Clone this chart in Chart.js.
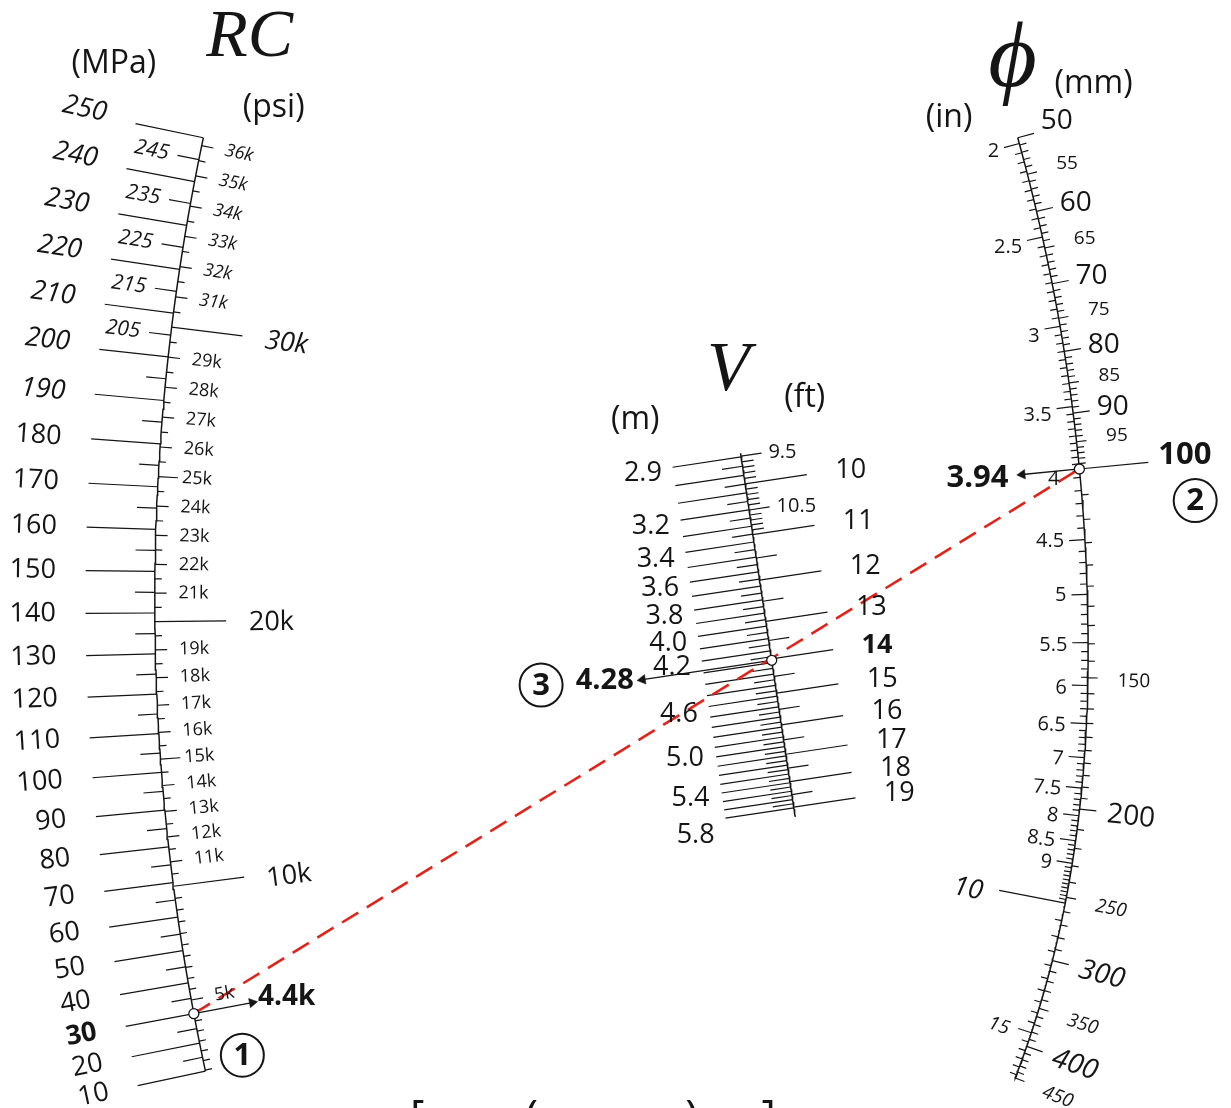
<!DOCTYPE html>
<html>
<head>
<meta charset="utf-8">
<script src="https://cdn.jsdelivr.net/npm/chart.js@4.4.1/dist/chart.umd.min.js"></script>
<style>
  html, body { margin: 0; padding: 0; background: #fff; overflow: hidden; }
  canvas { display: block; }
</style>
</head>
<body>
<canvas id="nomo" width="1231" height="1108"></canvas>
<script>
function range(from, to, step) {
    let out = [];
    let n = Math.round((to - from) / step);
    for (let i = 0; i <= n; i++) out.push(+(from + i * step).toFixed(4));
    return out;
}
function without(list, skip) {
    return list.filter(v => !skip.some(s => Math.abs(s - v) < 1e-6));
}

// ---- RC scale: MPa on the left, psi on the right ----
const rcMpaMajor = [250, 240, 230, 220, 210, 200, 190, 180, 170, 160, 150, 140, 130, 120, 110, 100, 90, 80, 70, 60, 50, 40, 30, 20, 10];
const rcMpaMid = [245, 235, 225, 215, 205];
const rcMpaMinor = [195, 185, 175, 165, 155, 145, 135, 125, 115, 105, 95, 85, 75, 65, 55, 45, 35, 25, 15];
const rcPsiMajor = [30000, 20000, 10000];
const rcPsiLabelled = [36000, 35000, 34000, 33000, 32000, 31000, 29000, 28000, 27000, 26000, 25000, 24000, 23000, 22000, 21000,
    19000, 18000, 17000, 16000, 15000, 14000, 13000, 12000, 11000, 5000];
const rcPsiMinor = without(range(1500, 36000, 500), rcPsiMajor.concat(rcPsiLabelled));

// ---- V scale: metres on the left, feet on the right ----
const vMetreLabels = [2.9, 3.2, 3.4, 3.6, 3.8, 4.0, 4.2, 4.6, 5.0, 5.4, 5.8];
const vMetreTenths = range(2.9, 5.8, 0.1);
const vMetreHalves = range(2.95, 5.75, 0.1);
const vFeetWhole = [10, 11, 12, 13, 14, 15, 16, 17, 18, 19];
const vFeetHalf = [9.5, 10.5, 11.5, 12.5, 13.5, 14.5, 15.5, 16.5, 17.5, 18.5];
const vFeetHalfLabels = [9.5, 10.5];
const vFeetFine = without(range(9.6, 10.9, 0.1), [10, 10.5]);

// ---- phi scale: mm on the right, inches on the left ----
const phiMmLarge = [50, 60, 70, 80, 90, 200, 300, 400];
const phiMmSmall = [55, 65, 75, 85, 95, 150, 250, 350, 450];
const phiMmBold = [100];
const phiMmMinor = without(range(51, 99, 1).concat(range(105, 195, 5), range(210, 440, 10)),
    phiMmLarge.concat(phiMmSmall));
const phiInLabels = [2, 2.5, 3, 3.5, 4, 4.5, 5, 5.5, 6, 6.5, 7, 7.5, 8, 8.5, 9];
const phiInLarge = [10];
const phiInSmall = [15];
const phiInMinor = without(range(2.05, 3.95, 0.05).concat(range(4.1, 9.9, 0.1), range(10.5, 17.5, 0.5)),
    phiInLabels.concat(phiInLarge, phiInSmall));

// ---- the worked example ----
const rcReading = 30;          // MPa
const rcReadingText = '4.4k';  // psi
const phiReading = 100;        // mm
const phiReadingText = '3.94'; // in
const vReadingFt = 14;
const vReadingM = 4.28;

const PSI_PER_MPA = 145.038;
const FT = 0.3048;
const INCH = 25.4;

// divided-difference polynomial through calibration points
function newton(xs, ys) {
    let n = xs.length, c = ys.slice();
    for (let j = 1; j < n; j++)
        for (let i = n - 1; i >= j; i--) c[i] = (c[i] - c[i - 1]) / (xs[i] - xs[i - j]);
    return t => {
        let r = c[n - 1];
        for (let i = n - 2; i >= 0; i--) r = r * (t - xs[i]) + c[i];
        return r;
    };
}

// axis geometry (layout): value -> y, y -> x, slope dx/dy
const rcAxis = {
    pos: newton([10, 90, 170, 250], [1077, 813, 486, 133]),
    x: y => 150 + 0.000225 * (y - 600) ** 2,
    slope: y => 0.00045 * (y - 600),
    rotate: 'all'
};
const phiLn = newton([0, Math.log(1.6), Math.log(2), Math.log(4), Math.log(8)], [133, 349, 468, 812, 1052]);
const phiAxis = {
    pos: mm => phiLn(Math.log(mm / 50)),
    x: y => {
        let d = y - 650;
        return d <= 0 ? 1093 - 0.000266 * d * d : 1093 - 0.0002885 * d * d - 2.364e-7 * d * d * d;
    },
    slope: y => {
        let d = y - 650;
        return d <= 0 ? -0.000532 * d : -(0.000577 * d + 7.092e-7 * d * d);
    },
    rotate: 'lower'
};
const vLn = newton([0, Math.log(14 / 9.5), Math.log(2)], [455, 660, 810]);
const vAxis = {
    pos: ft => vLn(Math.log(ft / 9.5)),
    x: y => 742 + (y - 453) * 0.1503,
    slope: () => 0.1503,
    rotate: 'none'
};

function at(axis, v) {
    let y = axis.pos(v), x = axis.x(y), s = axis.slope(y), k = Math.hypot(1, s);
    return {x: x, y: y, nx: 1 / k, ny: -s / k};
}
function off(p, d) {
    return {x: p.x + p.nx * d, y: p.y + p.ny * d};
}

const mpa = v => v;
const psi = v => v / PSI_PER_MPA;
const metre = v => v / FT;
const feet = v => v;
const mm = v => v;
const inch = v => v * INCH;

function tickSegs(axis, values, conv, side, len) {
    let pts = [];
    values.forEach(v => {
        let p = at(axis, conv(v));
        pts.push({x: p.x, y: p.y}, off(p, side * len), {x: null, y: null});
    });
    return pts;
}
function axisPath(axis, values) {
    return values.map(v => {
        let p = at(axis, v);
        return {x: p.x, y: p.y};
    });
}

const ink = '#151515';
const datasets = [];
function addLine(data, width) {
    datasets.push({
        data: data, showLine: true, borderColor: ink, borderWidth: width,
        pointRadius: 0, pointHoverRadius: 0, spanGaps: false, order: 5
    });
}

// axes
addLine(axisPath(rcAxis, range(10, 250, 2)), 1.5);
addLine(axisPath(vAxis, range(9.45, 19.4, 0.05)), 1.5);
addLine(axisPath(phiAxis, range(50, 450, 2)), 1.5);

// RC ticks
addLine(tickSegs(rcAxis, rcMpaMajor, mpa, -1, 70), 1.2);
addLine(tickSegs(rcAxis, rcMpaMid, mpa, -1, 22), 1.2);
addLine(tickSegs(rcAxis, rcMpaMinor, mpa, -1, 20), 1.2);
addLine(tickSegs(rcAxis, rcPsiMajor, psi, 1, 72), 1.2);
addLine(tickSegs(rcAxis, without(rcPsiLabelled, [15000, 25000]), psi, 1, 12), 1.2);
addLine(tickSegs(rcAxis, [15000, 25000], psi, 1, 20), 1.2);
addLine(tickSegs(rcAxis, rcPsiMinor, psi, 1, 7), 1.2);

// V ticks
addLine(tickSegs(vAxis, vMetreTenths, metre, -1, 70), 1.2);
addLine(tickSegs(vAxis, vMetreHalves, metre, -1, 21), 1.2);
addLine(tickSegs(vAxis, vFeetWhole, feet, 1, 63), 1.2);
addLine(tickSegs(vAxis, vFeetHalf, feet, 1, 21), 1.2);
addLine(tickSegs(vAxis, vFeetFine, feet, 1, 12), 1.2);

// phi ticks
addLine(tickSegs(phiAxis, phiMmLarge, mm, 1, 17), 1.2);
addLine(tickSegs(phiAxis, phiMmSmall, mm, 1, 10), 1.2);
addLine(tickSegs(phiAxis, phiMmBold, mm, 1, 70), 1.2);
addLine(tickSegs(phiAxis, phiMmMinor, mm, 1, 7), 1.2);
addLine(tickSegs(phiAxis, without(phiInLabels, [4]), inch, -1, 16), 1.2);
addLine(tickSegs(phiAxis, [4], inch, -1, 7), 1.2);
addLine(tickSegs(phiAxis, phiInLarge, inch, -1, 68), 1.2);
addLine(tickSegs(phiAxis, phiInSmall, inch, -1, 14), 1.2);
addLine(tickSegs(phiAxis, phiInMinor, inch, -1, 7), 1.2);

// worked example: index line and read-out arrows
const p1 = at(rcAxis, rcReading);
const p2 = at(phiAxis, phiReading);
const p3 = at(vAxis, metre(vReadingM));

datasets.push({
    data: [{x: p1.x, y: p1.y}, {x: p2.x, y: p2.y}], showLine: true,
    borderColor: '#e2231a', borderWidth: 2.6, borderDash: [19, 10],
    pointRadius: 0, pointHoverRadius: 0, order: 2
});

const arrows = [[p1, 64], [p2, -62], [p3, -136]];
let shafts = [], heads = [], headRot = [];
arrows.forEach(([p, len]) => {
    let tip = off(p, len), back = off(p, len - Math.sign(len) * 4);
    shafts.push({x: p.x, y: p.y}, back, {x: null, y: null});
    heads.push(back);
    headRot.push(Math.atan2(tip.y - p.y, tip.x - p.x) * 180 / Math.PI + 90);
});
datasets.push({
    data: shafts, showLine: true, borderColor: ink, borderWidth: 1.3,
    pointRadius: 0, pointHoverRadius: 0, order: 3
});
datasets.push({
    data: heads, showLine: false, pointStyle: 'triangle', pointRadius: 5.5, pointRotation: headRot,
    pointBackgroundColor: ink, pointBorderColor: ink, pointBorderWidth: 0.5, order: 1
});
datasets.push({
    data: [p1, p2, p3].map(p => ({x: p.x, y: p.y})), showLine: false,
    pointStyle: 'circle', pointRadius: 5, pointBackgroundColor: '#fff',
    pointBorderColor: ink, pointBorderWidth: 1.3, order: 0
});

// ---- text ----
const face = '"Open Sans", "DejaVu Sans", sans-serif';
const serif = '"Liberation Serif", "DejaVu Serif", serif';
const font = (size, style) => `${style || ''} ${size}px ${face}`;
const texts = [];

function label(axis, v, side, dist, text, f, dy) {
    let p = at(axis, v), q = off(p, side * dist);
    let angle = 0;
    if (axis.rotate === 'all' || (axis.rotate === 'lower' && p.y > 650)) angle = Math.atan2(p.ny, p.nx);
    texts.push({x: q.x, y: q.y + (dy || 0), text: text, font: f, align: side > 0 ? 'left' : 'right', angle: angle});
}
function freeText(x, y, text, f, align, base) {
    texts.push({x: x, y: y, text: text, font: f, align: align || 'left', base: base || 'alphabetic', angle: 0});
}

rcMpaMajor.forEach(v => label(rcAxis, v, -1, 100, String(v),
    font(27, v === rcReading ? 'bold' : (v >= 190 ? 'italic' : '')), v >= 200 ? -4 : 0));
rcMpaMid.forEach(v => label(rcAxis, v, -1, 31, String(v), font(21, 'italic')));
rcPsiMajor.forEach(v => label(rcAxis, psi(v), 1, 95, (v / 1000) + 'k', font(27, v >= 30000 ? 'italic' : ''), v === 10000 ? 5 : 2));
rcPsiLabelled.forEach(v => label(rcAxis, psi(v), 1, 24, (v / 1000) + 'k', font(18, v > 30000 ? 'italic' : '')));

// metre labels drift below their ticks towards the foot of the scale
vMetreLabels.forEach(v => label(vAxis, metre(v), -1, 81, v.toFixed(1), font(27), 5 + Math.max(0, v - 4.4) * 8));
vFeetWhole.forEach(v => label(vAxis, v, 1, 92, String(v), font(27, v === vReadingFt ? 'bold' : '')));
vFeetHalfLabels.forEach(v => label(vAxis, v, 1, 28, String(v), font(20)));

phiMmLarge.forEach(v => label(phiAxis, v, 1, v >= 200 ? 28 : 24, String(v), font(28, v >= 250 ? 'italic' : ''),
    v === 50 ? -11 : (v < 100 ? -3 : 2)));
phiMmSmall.forEach(v => label(phiAxis, v, 1, 30, String(v), font(19, v >= 250 ? 'italic' : ''), v < 100 ? -3 : 3));
phiMmBold.forEach(v => label(phiAxis, v, 1, 80, String(v), font(31, 'bold'), -6));
phiInLabels.forEach(v => label(phiAxis, inch(v), -1, 21, String(v), font(20),
    v === 2 ? 2 : (v < 4 ? 6 : (v < 5.5 ? 0 : 3))));
phiInLarge.forEach(v => label(phiAxis, inch(v), -1, 85, String(v), font(27, 'italic'), 5));
phiInSmall.forEach(v => label(phiAxis, inch(v), -1, 24, String(v), font(19, 'italic'), 4));

// read-outs at the arrow heads
let r1 = off(p1, 66), r2 = off(p2, -72), r3 = off(p3, -141);
freeText(r1.x, r1.y - 5, rcReadingText, font(28, 'bold'), 'left', 'middle');
freeText(r2.x, r2.y + 2, phiReadingText, font(31, 'bold'), 'right', 'middle');
freeText(r3.x, r3.y, vReadingM.toFixed(2), font(29, 'bold'), 'right', 'middle');

// scale titles and units
freeText(202, 50, 'RC', `italic 68px ${serif}`);
freeText(66, 67, '(MPa)', font(32));
freeText(239, 112, '(psi)', font(32));
freeText(708, 388, 'V', `italic 70px ${serif}`);
freeText(611, 428, '(m)', font(32));
freeText(786, 405, '(ft)', font(32));
freeText(992, 81, '\u03D5', `italic 94px ${serif}`);
freeText(1059, 88, '(mm)', font(32));
freeText(929, 122, '(in)', font(32));

// formula below the chart, only its top edge shows
freeText(408, 1138, '[', font(44));
freeText(524, 1138, '(', font(44));
freeText(686, 1138, ')', font(44));
freeText(763, 1138, ']', font(44));

const badges = [[p1, 49, 42, '1'], [p2, 117, 32, '2'], [p3, -233, 25, '3']];

const nomoText = {
    id: 'nomoText',
    afterDatasetsDraw(chart) {
        const ctx = chart.ctx, sx = chart.scales.x, sy = chart.scales.y;
        ctx.save();
        ctx.fillStyle = ink;
        texts.forEach(t => {
            ctx.save();
            ctx.translate(sx.getPixelForValue(t.x), sy.getPixelForValue(t.y));
            ctx.rotate(t.angle);
            ctx.font = t.font;
            ctx.textAlign = t.align;
            ctx.textBaseline = t.base || 'middle';
            ctx.fillText(t.text, 0, 0);
            ctx.restore();
        });
        badges.forEach(([p, dx, dy, n]) => {
            let cx = sx.getPixelForValue(p.x + dx), cy = sy.getPixelForValue(p.y + dy);
            ctx.beginPath();
            ctx.arc(cx, cy, 21.5, 0, Math.PI * 2);
            ctx.lineWidth = 2;
            ctx.strokeStyle = ink;
            ctx.stroke();
            ctx.font = font(31, 'bold');
            ctx.textAlign = 'center';
            ctx.textBaseline = 'middle';
            ctx.fillText(n, cx, cy + 1);
        });
        ctx.restore();
    }
};

new Chart(document.getElementById('nomo'), {
    type: 'scatter',
    data: {datasets: datasets},
    options: {
        responsive: false,
        animation: false,
        events: [],
        layout: {padding: 0},
        scales: {
            x: {type: 'linear', min: 0, max: 1231, display: false},
            y: {type: 'linear', min: 0, max: 1108, reverse: true, display: false}
        },
        plugins: {legend: {display: false}, tooltip: {enabled: false}}
    },
    plugins: [nomoText]
});
</script>
</body>
</html>
